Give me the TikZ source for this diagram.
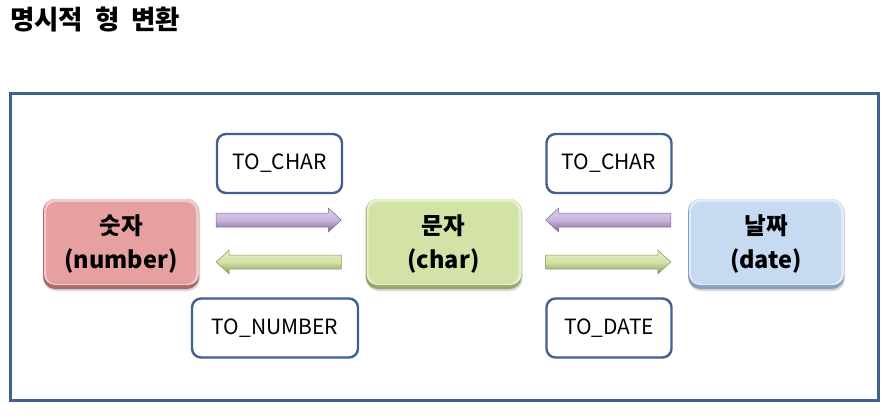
\documentclass[tikz,border=0pt]{standalone}
\usepackage{fontspec}
\setmainfont{Noto Sans CJK KR}
\usetikzlibrary{calc,shadows}

\definecolor{framec}{HTML}{41608C}
\definecolor{numfill}{HTML}{E6A09F}
\definecolor{numdark}{HTML}{A86A6A}
\definecolor{chrfill}{HTML}{D2E3A5}
\definecolor{chrdark}{HTML}{98A86A}
\definecolor{datfill}{HTML}{C6DAF2}
\definecolor{datdark}{HTML}{8A9FBC}
\definecolor{purlight}{HTML}{C8B4DC}
\definecolor{purdark}{HTML}{7D6890}
\definecolor{grnlight}{HTML}{D4E2A6}
\definecolor{grndark}{HTML}{879860}

\tikzset{
  typebox/.style 2 args={rounded corners=12pt, minimum width=156pt, minimum height=90pt,
    align=center, font=\bfseries\fontsize{23.5}{34}\selectfont, fill=#2,
    drop shadow={opacity=0.3, shadow xshift=1pt, shadow yshift=-2pt},
    path picture={
      \fill[#1!55!white, rounded corners=11pt] ($(path picture bounding box.south west)+(1pt,4pt)$)
        rectangle (path picture bounding box.north east);
      \fill[#1, rounded corners=10pt] ($(path picture bounding box.south west)+(3pt,5pt)$)
        rectangle ($(path picture bounding box.north east)+(-3pt,-3pt)$);}},
  fnbox/.style={draw=framec, line width=2.4pt, rounded corners=9pt, fill=white,
    minimum height=59pt, font=\fontsize{21}{24}\selectfont},
  purarrow/.style={top color=purlight!60!white, bottom color=purdark, middle color=purlight,
    draw=purdark, line width=0.5pt},
  grnarrow/.style={top color=grnlight!60!white, bottom color=grndark, middle color=grnlight,
    draw=grndark, line width=0.5pt}
}

% block arrow from #2 to #3
\newcommand\blockarrow[3]{%
  \path[#1] ($(#2)+(0,7pt)$) -- ($(#3)!13pt!(#2)+(0,7pt)$) -- ($(#3)!13pt!(#2)+(0,12pt)$)
    -- (#3) -- ($(#3)!13pt!(#2)+(0,-12pt)$) -- ($(#3)!13pt!(#2)+(0,-7pt)$)
    -- ($(#2)+(0,-7pt)$) -- cycle;}

\begin{document}
\begin{tikzpicture}[x=1pt,y=-1pt]
  \useasboundingbox (0,0) rectangle (894,420);
  \node[anchor=west, font=\bfseries\fontsize{26.5}{28}\selectfont, inner sep=0pt] (title) at (10,20)
    {명시적\hspace{0.45em}형\hspace{0.45em}변환};
  \draw[framec, line width=3pt] (10,93) rectangle (878,400);

  % type boxes
  \node[typebox={numfill}{numdark}] (num) at (121,244) {숫자\\(number)};
  \node[typebox={chrfill}{chrdark}] (chr) at (443.5,244) {문자\\(char)};
  \node[typebox={datfill}{datdark}] (dat) at (766,244) {날짜\\(date)};

  % function boxes
  \node[fnbox, minimum width=125pt] (tochar1) at (279.5,163.5) {TO\_CHAR};
  \node[fnbox, minimum width=166pt] (tonum) at (275,328) {TO\_NUMBER};
  \node[fnbox, minimum width=125pt] (tochar2) at (609,163.5) {TO\_CHAR};
  \node[fnbox, minimum width=125pt] (todate) at (609,328) {TO\_DATE};

  % arrow ends
  \coordinate (a1) at ($(num.east)+(17pt,24pt)$);
  \coordinate (b1) at ($(chr.west)+(-24pt,24pt)$);
  \coordinate (a2) at ($(num.east)+(17pt,-18pt)$);
  \coordinate (b2) at ($(chr.west)+(-24pt,-18pt)$);
  \coordinate (a3) at ($(chr.east)+(24pt,24pt)$);
  \coordinate (b3) at ($(dat.west)+(-17pt,24pt)$);
  \coordinate (a4) at ($(chr.east)+(24pt,-18pt)$);
  \coordinate (b4) at ($(dat.west)+(-17pt,-18pt)$);

  \blockarrow{purarrow}{a1}{b1}
  \blockarrow{grnarrow}{b2}{a2}
  \blockarrow{purarrow}{b3}{a3}
  \blockarrow{grnarrow}{a4}{b4}
\end{tikzpicture}
\end{document}
